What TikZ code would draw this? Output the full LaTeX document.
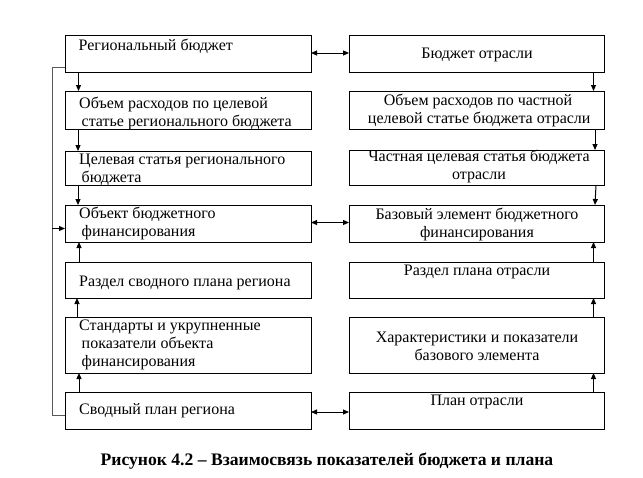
\documentclass[tikz,border=0pt]{standalone}
\usepackage{fontspec}
\setmainfont{Liberation Serif}
\usetikzlibrary{arrows.meta,calc}
\newcommand{\ltab}[1]{\begin{tabular}[t]{@{}l@{}}#1\end{tabular}}
\newcommand{\ctab}[1]{\begin{tabular}[t]{@{}c@{}}#1\end{tabular}}
\newcommand{\ind}{\hspace*{2.5pt}}
\begin{document}
\begin{tikzpicture}[x=1pt,y=-1pt,
  box/.style={draw=black,line width=1pt,inner sep=0pt,outer sep=0pt,anchor=north west,minimum height=#1},
  lbox/.style={box=#1,minimum width=246pt},
  rbox/.style={box=#1,minimum width=255pt},
  ltxt/.style={anchor=base west,inner sep=0pt,font=\fontsize{16}{18}\selectfont},
  rtxt/.style={anchor=base,inner sep=0pt,font=\fontsize{16}{18}\selectfont},
  arr/.style={line width=1pt,-{Triangle[length=6pt,width=5pt]}},
  darr/.style={line width=1pt,{Triangle[length=6pt,width=5pt]}-{Triangle[length=6pt,width=5pt]}},
  fb/.style={line width=1pt,draw=black!65}
]
\useasboundingbox (0,0) rectangle (643,477);
% left column
\node[lbox=37pt] (L1) at (65,35) {};
\node[lbox=38pt] (L2) at (65,91) {};
\node[lbox=34pt] (L3) at (65,151) {};
\node[lbox=37pt] (L4) at (65,205) {};
\node[lbox=36pt] (L5) at (65,262) {};
\node[lbox=56pt] (L6) at (65,317) {};
\node[lbox=37pt] (L7) at (65,392) {};
% right column
\node[rbox=37pt] (R1) at (349,35) {};
\node[rbox=38pt] (R2) at (349,91) {};
\node[rbox=35pt] (R3) at (349,150) {};
\node[rbox=37pt] (R4) at (349,205) {};
\node[rbox=36pt] (R5) at (349,262) {};
\node[rbox=56pt] (R6) at (349,317) {};
\node[rbox=37pt] (R7) at (349,392) {};
% left texts
\node[ltxt] (L1t) at (78.5,50) {Региональный бюджет};
\node[ltxt] (L2t) at (79,108.5) {\ltab{Объем расходов по целевой\\ \ind статье регионального бюджета}};
\node[ltxt] (L3t) at (79,164) {\ltab{Целевая статья регионального\\ \ind бюджета}};
\node[ltxt] (L4t) at (79,218.5) {\ltab{Объект бюджетного\\ \ind финансирования}};
\node[ltxt] (L5t) at (79,286.5) {Раздел сводного плана региона};
\node[ltxt] (L6t) at (79,330.5) {\ltab{Стандарты и укрупненные\\ \ind показатели объекта\\ \ind финансирования}};
\node[ltxt] (L7t) at (79,414) {Сводный план региона};
% right texts
\node[rtxt] (R1t) at (477,58) {Бюджет отрасли};
\node[rtxt] (R2t) at (478,105.5) {\ctab{Объем расходов по частной\\ \ind целевой статье бюджета отрасли}};
\node[rtxt] (R3t) at (479,161.5) {\ctab{Частная целевая статья бюджета\\ отрасли}};
\node[rtxt] (R4t) at (477,219) {\ctab{Базовый элемент бюджетного\\ финансирования}};
\node[rtxt] (R5t) at (477,275.5) {Раздел плана отрасли};
\node[rtxt] (R6t) at (477,342) {\ctab{Характеристики и показатели\\ базового элемента}};
\node[rtxt] (R7t) at (477,405) {План отрасли};
% caption
\node[anchor=base,inner sep=0pt,font=\fontsize{17.6}{20}\selectfont\bfseries] (cap) at (327,465) {Рисунок 4.2 – Взаимосвязь показателей бюджета и плана};
% left vertical arrows
\draw[arr] ($(L1.south west)+(13.5,0)$) -- ($(L2.north west)+(13.5,0)$);
\draw[arr] ($(L2.south west)+(13,0)$) -- ($(L3.north west)+(13,0)$);
\draw[arr] ($(L3.south west)+(13,0)$) -- ($(L4.north west)+(13,0)$);
\draw[arr] ($(L5.north west)+(14,0)$) -- ($(L4.south west)+(14,0)$);
\draw[arr] ($(L6.north west)+(12,0)$) -- ($(L5.south west)+(12,0)$);
\draw[arr] ($(L7.north west)+(14,0)$) -- ($(L6.south west)+(14,0)$);
% right vertical arrows
\draw[arr] ($(R1.south east)+(-10.5,0)$) -- ($(R2.north east)+(-10.5,0)$);
\draw[arr] ($(R2.south east)+(-9,0)$) -- ($(R3.north east)+(-9,0)$);
\draw[arr] ($(R3.south east)+(-8,0)$) -- ($(R4.north east)+(-9,0)$);
\draw[arr] ($(R5.north east)+(-10.5,0)$) -- ($(R4.south east)+(-10.5,0)$);
\draw[arr] ($(R6.north east)+(-10.5,0)$) -- ($(R5.south east)+(-10.5,0)$);
\draw[arr] ($(R7.north east)+(-10.5,0)$) -- ($(R6.south east)+(-10.5,0)$);
% horizontal double arrows
\draw[darr] ($(L1.north east)+(0,18)$) -- ($(R1.north west)+(0,18)$);
\draw[darr] ($(L4.north east)+(0,17.5)$) -- ($(R4.north west)+(0,17.5)$);
\draw[darr] ($(L7.north east)+(0,20)$) -- ($(R7.north west)+(0,20)$);
% feedback line on the left
\draw[fb] ($(L1.north west)+(0,32)$) -- ++(-13,0) |- ($(L7.north west)+(0,23)$);
\draw[arr] ($(L4.north west)+(-13,23.5)$) -- ($(L4.north west)+(0,23.5)$);
\end{tikzpicture}
\end{document}
